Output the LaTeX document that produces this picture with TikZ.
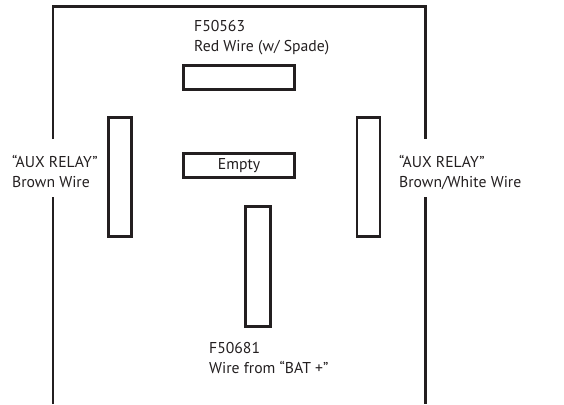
\documentclass[tikz,border=0pt]{standalone}
\usepackage{fontspec}
\setmainfont{PT Sans}
\definecolor{ink}{HTML}{231F20}
\begin{document}
\begin{tikzpicture}[x=1pt,y=-1pt,
  frame/.style={draw=ink,line width=2.8pt},
  pin/.style={draw=ink,line width=2.8pt,fill=white,inner sep=0pt},
  hpin/.style={pin,minimum width=111pt,minimum height=24pt},
  vpin/.style={pin,minimum width=23pt,minimum height=119pt},
  lbl/.style={text=ink,font=\fontsize{15.7}{20}\selectfont,align=left,inner sep=0pt,anchor=base west}]
\useasboundingbox (0,0) rectangle (564,404);
% housing outline
\draw[frame] (53,404) -- (53,197);
\draw[frame] (53,139) -- (53,6.5) -- (425.5,6.5) -- (425.5,139);
\draw[frame] (425.5,197) -- (425.5,404);
% terminals
\node[hpin] (top) at (239,77.5) {};
\node[hpin,text=ink,font=\fontsize{15.7}{20}\selectfont] (mid) at (239,165.5) {Empty};
\node[vpin] (left) at (120,177) {};
\node[vpin] (right) at (368.5,177) {};
\node[pin,minimum width=25pt,minimum height=120pt] (bot) at (258,266.5) {};
% labels (anchored on the baseline of the last line)
\node[lbl] (ltop) at (194,52) {F50563\\Red Wire (w/ Spade)};
\node[lbl] (lleft) at (12,187) {“AUX RELAY”\\Brown Wire};
\node[lbl] (lright) at (399,187) {“AUX RELAY”\\Brown/White Wire};
\node[lbl] (lbot) at (209,373) {F50681\\Wire from “BAT +”};
\end{tikzpicture}
\end{document}
